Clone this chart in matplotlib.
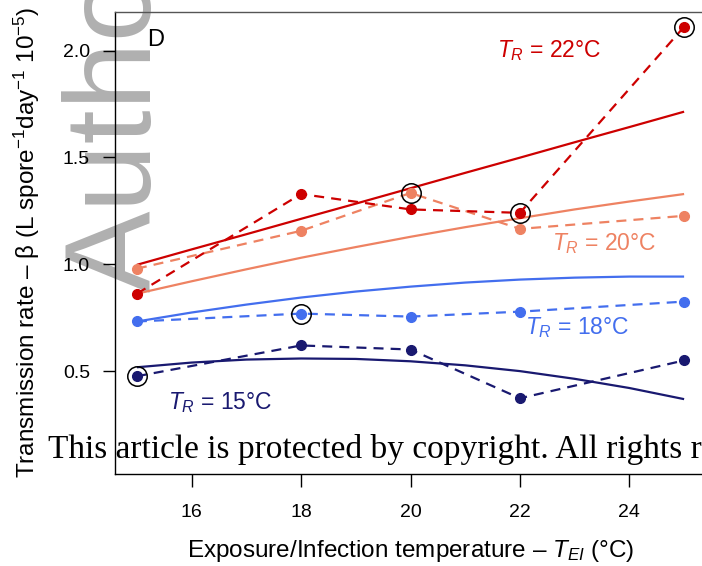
import numpy as np
import matplotlib
matplotlib.use("Agg")
import matplotlib.pyplot as plt

plt.rcParams['font.family'] = ['Liberation Sans', 'DejaVu Sans']
plt.rcParams['mathtext.fontset'] = 'custom'
plt.rcParams['mathtext.rm'] = 'Liberation Sans'
plt.rcParams['mathtext.it'] = 'Liberation Sans:italic'
plt.rcParams['mathtext.bf'] = 'Liberation Sans:bold'

# --- observed transmission rates (dashed, one per rearing temperature) ---
temps = [15, 18, 20, 22, 25]
obs_15 = [0.477, 0.621, 0.602, 0.374, 0.551]
obs_18 = [0.733, 0.770, 0.756, 0.779, 0.826]
obs_20 = [0.980, 1.157, 1.334, 1.166, 1.227]
obs_22 = [0.863, 1.329, 1.257, 1.241, 2.111]

# --- model fits (solid) ---
fit_t = [15, 16, 17, 18, 19, 20, 21, 22, 23, 24, 25]
fit_15 = [0.519, 0.541, 0.555, 0.560, 0.558, 0.547, 0.528, 0.501, 0.465, 0.422, 0.370]
fit_18 = [0.733, 0.775, 0.812, 0.845, 0.873, 0.896, 0.915, 0.929, 0.938, 0.943, 0.943]
fit_20 = [0.863, 0.921, 0.977, 1.031, 1.081, 1.129, 1.174, 1.216, 1.257, 1.294, 1.329]
fit_22 = [0.998, 1.070, 1.141, 1.213, 1.284, 1.356, 1.428, 1.499, 1.571, 1.642, 1.714]

# points ringed in black: (series, exposure temperature)
ringed = [("15", 15), ("18", 18), ("20", 20), ("22", 22), ("22", 25)]

series = {
    "15": (obs_15, fit_15, "#191970"),
    "18": (obs_18, fit_18, "#436EEE"),
    "20": (obs_20, fit_20, "#EE8262"),
    "22": (obs_22, fit_22, "#CD0000"),
}

# label positions (left edge, baseline) in data units
label_pos = {"22": (21.58, 1.967), "20": (22.58, 1.068),
             "18": (22.09, 0.672), "15": (15.57, 0.323)}

fig = plt.figure(figsize=(7.02, 5.66), dpi=100)
ax = fig.add_axes([115 / 702, 92 / 566, 591 / 702, 462 / 566])
ax.patch.set_visible(False)

for key, (obs, fit, col) in series.items():
    ax.plot(fit_t, fit, color=col, lw=1.6, solid_capstyle='butt', zorder=3)
    ax.plot(temps, obs, color=col, lw=1.6, ls=(0, (4.5, 3.2)), marker='o',
            ms=7, mec=col, mfc=col, zorder=4)
    lx, ly = label_pos[key]
    ax.text(lx, ly, r"$T_R$ = %s°C" % key, color=col, fontsize=16.5,
            ha='left', va='baseline', zorder=5)

for key, t in ringed:
    obs = series[key][0]
    ax.plot(t, obs[temps.index(t)], marker='o', ms=14, mfc='none',
            mec='black', mew=1.1, zorder=6)

ax.text(15.18, 2.023, "D", fontsize=17, ha='left', va='baseline')

ax.set_xlim(14.6, 25.4)
ax.set_ylim(0.02, 2.18)
ax.set_xticks([16, 18, 20, 22, 24])
ax.set_yticks([0.5, 1.0, 1.5, 2.0])
ax.set_yticklabels(["0.5", "1.0", "1.5", "2.0"])
ax.tick_params(axis='both', direction='out', length=9, width=1,
               labelsize=14, color='black')
ax.tick_params(axis='x', pad=12.5)
ax.tick_params(axis='y', pad=9)
for sp in ax.spines.values():
    sp.set_linewidth(1.0)
    sp.set_color('black')
ax.spines['top'].set_color('#555555')

fig.text(410.5 / 702, 1 - 557 / 566,
         r"Exposure/Infection temperature – $T_{EI}$ (°C)",
         fontsize=17.5, ha='center', va='baseline')
fig.text(35 / 702, 1 - 242 / 566,
         r"Transmission rate – β (L spore$^{-1}$day$^{-1}$ 10$^{-5}$)",
         fontsize=17.5, ha='center', va='baseline', rotation=90,
         rotation_mode='anchor')

# watermark and notice
fig.text(151 / 702, 1 - 292 / 566, "Author", fontsize=88, color='#B0B0B0',
         rotation=90, rotation_mode='anchor', ha='left', va='baseline',
         zorder=-1)
fig.text(48 / 702, 1 - 458 / 566,
         "This article is protected by copyright. All rights reserved",
         fontsize=24, family='Liberation Serif', ha='left', va='baseline',
         zorder=10)

fig.savefig("out.png", dpi=100)
